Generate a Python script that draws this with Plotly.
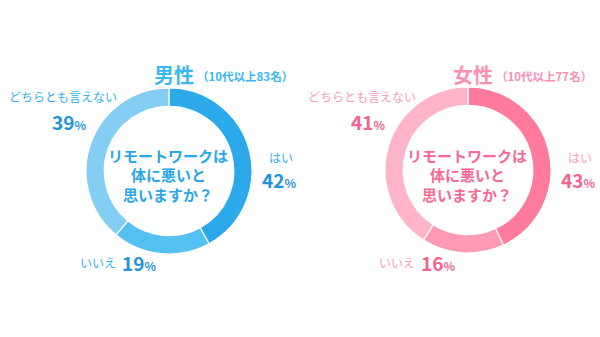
import plotly.graph_objects as go

# Survey answers: "Is remote work bad for your health?"
categories = ["はい", "いいえ", "どちらとも言えない"]
male_values = [42, 19, 39]
female_values = [43, 16, 41]
male_title = "男性"
female_title = "女性"
male_note = "（10代以上83名）"
female_note = "（10代以上77名）"
question_lines = ["リモートワークは", "体に悪いと", "思いますか？"]

W, H = 600, 337
FONT = "Noto Sans CJK JP"

male_colors = ["#2CA9EA", "#55C1F3", "#84CEF3"]
female_colors = ["#FF7A9D", "#FF99B4", "#FFB4C9"]


def px_x(x):
    return x / W


def px_y(y):
    return 1 - y / H


fig = go.Figure()

panels = [
    dict(values=male_values, colors=male_colors, cx=169, cy=171, r=83),
    dict(values=female_values, colors=female_colors, cx=468, cy=170, r=83),
]

for p in panels:
    fig.add_trace(go.Pie(
        labels=categories,
        values=p["values"],
        hole=0.78,
        sort=False,
        direction="clockwise",
        rotation=0,
        marker=dict(colors=p["colors"], line=dict(color="white", width=1.2)),
        textinfo="none",
        hoverinfo="label+percent",
        showlegend=False,
        domain=dict(
            x=[px_x(p["cx"] - p["r"]), px_x(p["cx"] + p["r"])],
            y=[px_y(p["cy"] + p["r"]), px_y(p["cy"] - p["r"])],
        ),
    ))


def pct(v, color, size=19):
    return (f"<b><span style='font-size:{size}px;color:{color}'>{v}</span>"
            f"<span style='font-size:12px;color:{color}'>%</span></b>")


ann = []


def add(x, y, text, size, color, xanchor="center"):
    ann.append(dict(
        x=px_x(x), y=px_y(y), xref="paper", yref="paper",
        text=text, showarrow=False, xanchor=xanchor, yanchor="middle",
        font=dict(family=FONT, size=size, color=color),
    ))


def panel_text(dx, vals, title, note, tc, nc, qc, tcol):
    # title and respondent note
    add(152 + dx, 74, f"<b>{title}</b>", 20, tcol, "left")
    add(195 + dx, 76, f"<b>{note}</b>", 11.5, tcol, "left")
    # centre question, one annotation per line
    for i, line in enumerate(question_lines):
        add(168 + dx, 155 + 19.5 * i, f"<b>{line}</b>", 15, qc)
    # はい
    add(281 + dx, 157, categories[0], 12, tc)
    add(279 + dx, 179, pct(vals[0], nc), 12, nc)
    # どちらとも言えない
    add(63 + dx, 96, categories[2], 12, tc)
    add(69 + dx, 121, pct(vals[2], nc), 12, nc)
    # いいえ
    add(78 + dx, 262, categories[1], 12, tc, "left")
    add(120 + dx, 262, pct(vals[1], nc), 12, nc, "left")


panel_text(0, male_values, male_title, male_note,
           "#34AFEC", "#1F94DA", "#2BA6E8", "#3BB8F0")
panel_text(299, female_values, female_title, female_note,
           "#F99DBA", "#F3648C", "#F76A92", "#FA90B3")

fig.update_layout(
    width=W, height=H,
    margin=dict(l=0, r=0, t=0, b=0),
    paper_bgcolor="white",
    plot_bgcolor="white",
    annotations=ann,
)

fig.write_html("out.html")
